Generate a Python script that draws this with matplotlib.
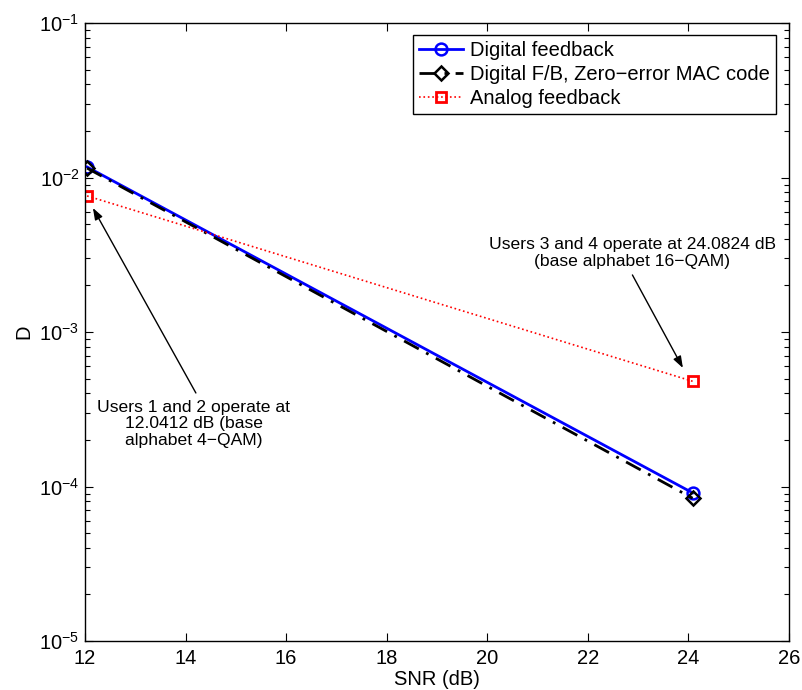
import matplotlib
matplotlib.use("Agg")
import matplotlib.pyplot as plt
from matplotlib.ticker import LogLocator, NullFormatter, FixedLocator

plt.rcParams['font.family'] = ['Liberation Sans', 'DejaVu Sans']
plt.rcParams['mathtext.fontset'] = 'custom'
plt.rcParams['mathtext.rm'] = 'Liberation Sans'
plt.rcParams['mathtext.it'] = 'Liberation Sans:italic'

# ---- data ----
snr_db = [12.0412, 24.0824]
digital_fb = [0.0117, 9.1e-5]
digital_zero_err = [0.0115, 8.4e-5]
analog_fb = [0.0076, 4.8e-4]

series_labels = ["Digital feedback", "Digital F/B, Zero\u2212error MAC code", "Analog feedback"]
x_ticks = [12, 14, 16, 18, 20, 22, 24, 26]
x_label = "SNR (dB)"
y_label = "D"
note1 = "Users 1 and 2 operate at\n12.0412 dB (base\nalphabet 4\u2212QAM)"
note2 = "Users 3 and 4 operate at 24.0824 dB\n(base alphabet 16\u2212QAM)"

fs = 14.5
fs_note = 12.6

fig = plt.figure(figsize=(8.02, 6.90), dpi=100)
ax = fig.add_axes([85/802, 1-641/690, (789-85)/802, (641-23)/690])

ax.plot(snr_db, digital_fb, '-', color='#0000ff', lw=2, marker='o', ms=8.5,
        mfc='none', mec='#0000ff', mew=1.8, label=series_labels[0])
ax.plot(snr_db, digital_zero_err, '-.', color='k', lw=2, marker='D', ms=7,
        mfc='none', mec='k', mew=1.8, label=series_labels[1], dashes=(6, 3, 1, 3))
ax.plot(snr_db, analog_fb, ':', color='#ff0000', lw=1.2, marker='s', ms=7,
        mfc='none', mec='#ff0000', mew=2, label=series_labels[2])

ax.set_yscale('log')
ax.set_xlim(12, 26)
ax.set_ylim(1e-5, 1e-1)
ax.xaxis.set_major_locator(FixedLocator(x_ticks))
ax.yaxis.set_major_locator(LogLocator(base=10, numticks=10))
ax.yaxis.set_minor_locator(LogLocator(base=10, subs=range(2, 10), numticks=20))
ax.yaxis.set_minor_formatter(NullFormatter())

ax.tick_params(which='both', direction='in', top=True, right=True, labelsize=fs, width=0.8)
ax.tick_params(which='major', length=6)
ax.tick_params(which='minor', length=3.5)
ax.tick_params(axis='x', pad=6)
ax.tick_params(axis='y', pad=4)
for s in ax.spines.values():
    s.set_linewidth(1.0)

ax.set_xlabel(x_label, fontsize=fs, labelpad=1)
ax.set_ylabel(y_label, fontsize=fs, labelpad=4)

leg = ax.legend(loc='upper right', fontsize=fs, frameon=True, fancybox=False,
                edgecolor='k', framealpha=1, borderpad=0.3, labelspacing=0.25,
                handlelength=2.2, handletextpad=0.35, borderaxespad=0.0,
                bbox_to_anchor=(776/802, 1-35/690), bbox_transform=fig.transFigure)
leg.get_frame().set_linewidth(1.0)

arrow_kw = dict(arrowstyle='-|>,head_length=0.7,head_width=0.25', color='k', lw=1,
                shrinkA=0, shrinkB=0)
ax.annotate('', xy=(12.157, 6.35e-3), xytext=(14.205, 4.03e-4), arrowprops=arrow_kw)
ax.text(14.165, 2.54e-4, note1, ha='center', va='center', fontsize=fs_note, linespacing=1.1)
ax.annotate('', xy=(23.89, 5.85e-4), xytext=(22.886, 2.34e-3), arrowprops=arrow_kw)
ax.text(22.886, 3.25e-3, note2, ha='center', va='center', fontsize=fs_note, linespacing=1.1)

fig.savefig('out.png', dpi=100)
